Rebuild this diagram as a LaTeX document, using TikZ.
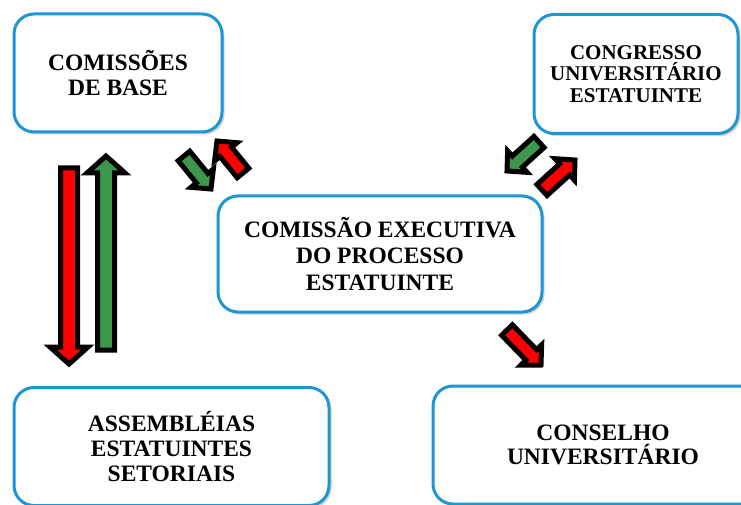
\documentclass[tikz,border=0pt]{standalone}
\usepackage{fontspec}
\setmainfont{Liberation Serif}
\usetikzlibrary{calc,positioning,shadows}
\definecolor{azulcaixa}{RGB}{30,150,210}
\definecolor{verdeseta}{RGB}{60,150,75}
\definecolor{vermseta}{RGB}{255,0,0}

\begin{document}
\begin{tikzpicture}[x=1pt, y=-1pt,
    caixa/.style={draw=azulcaixa, line width=3pt, rounded corners=20pt, fill=white, align=center, inner sep=0pt,
        font=\fontsize{23.5}{25}\selectfont\bfseries,
        drop shadow={opacity=0.35, shadow xshift=2.5pt, shadow yshift=-2.5pt}},
    gorda/.style n args={3}{draw=black, line width=5pt, line join=miter,
        to path={($(\tikztostart)!#1!90:(\tikztotarget)$)
            -- ($(\tikztotarget)!#3!(\tikztostart)!#1!90:(\tikztotarget)$)
            -- ($(\tikztotarget)!#3!(\tikztostart)!#2!90:(\tikztotarget)$)
            -- (\tikztotarget)
            -- ($(\tikztotarget)!#3!(\tikztostart)!#2!-90:(\tikztotarget)$)
            -- ($(\tikztotarget)!#3!(\tikztostart)!#1!-90:(\tikztotarget)$)
            -- ($(\tikztostart)!#1!-90:(\tikztotarget)$) -- cycle}},
    setav/.style={gorda={8.5pt}{19pt}{17pt}},
    setad/.style={gorda={7.5pt}{14.5pt}{14pt}}]
        \useasboundingbox (0,0) rectangle (741,505);
        \clip (0,0) rectangle (741,505);

        \node[caixa, minimum width=208pt, minimum height=118pt] (base) at (118,73) {COMISSÕES\\DE BASE};
        \node[caixa, minimum width=204pt, minimum height=119pt, font=\fontsize{21}{21.5}\selectfont\bfseries] (congresso) at (636,74) {CONGRESSO\\UNIVERSITÁRIO\\ESTATUINTE};
        \node[caixa, minimum width=324pt, minimum height=116pt, font=\fontsize{23.5}{26.5}\selectfont\bfseries] (executiva) at (380,254) {COMISSÃO EXECUTIVA\\DO PROCESSO\\ESTATUINTE};
        \node[caixa, minimum width=315pt, minimum height=118pt] (assembleias) at (171.5,446.5) {ASSEMBLÉIAS\\ESTATUINTES\\SETORIAIS};
        \node[caixa, minimum width=340pt, minimum height=118pt, font=\fontsize{23.5}{23.5}\selectfont\bfseries] (conselho) at (603,445) {CONSELHO\\UNIVERSITÁRIO};

        \coordinate (desce1) at (69,168);
        \coordinate (desce2) at (69,364);
        \coordinate (sobe1) at (106,350);
        \coordinate (sobe2) at (106,156);
        \coordinate (ida1) at (184,156);
        \coordinate (ida2) at (211,189);
        \coordinate (volta1) at (243,173);
        \coordinate (volta2) at (217,141);
        \coordinate (cong1) at (539,142);
        \coordinate (cong2) at (507,171);
        \coordinate (cong3) at (542,190);
        \coordinate (cong4) at (575,160);
        \coordinate (cons1) at (507,330);
        \coordinate (cons2) at (541,365);

        \draw[setav, fill=vermseta] (desce1) to (desce2);
        \draw[setav, fill=verdeseta] (sobe1) to (sobe2);
        \draw[setad, fill=verdeseta] (ida1) to (ida2);
        \draw[setad, fill=vermseta] (volta1) to (volta2);
        \draw[setad, fill=verdeseta] (cong1) to (cong2);
        \draw[setad, fill=vermseta] (cong3) to (cong4);
        \draw[setad, fill=vermseta] (cons1) to (cons2);
    \end{tikzpicture}
\end{document}
